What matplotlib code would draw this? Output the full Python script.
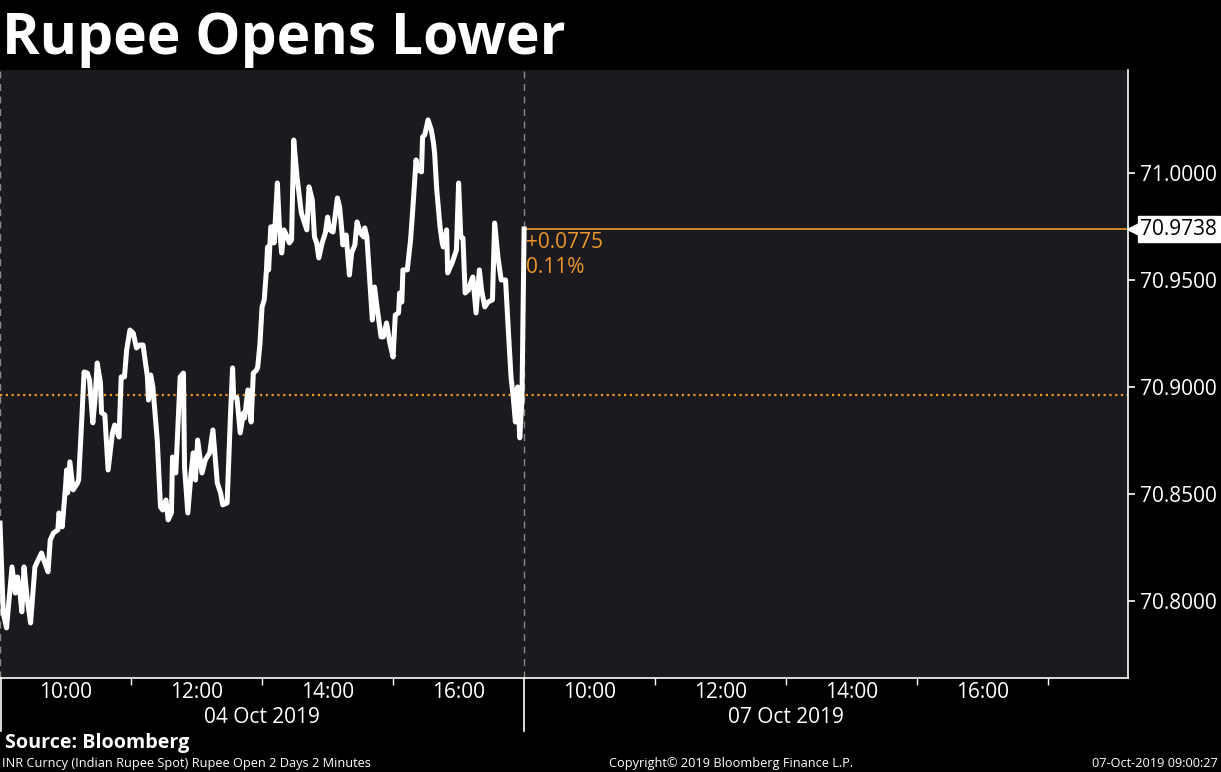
import matplotlib
matplotlib.use("Agg")
import matplotlib.pyplot as plt
import matplotlib.transforms as mtransforms

# INR spot, 04 Oct 2019, minutes after 09:00 (2-minute bars)
day1_minutes = [0, 3, 6, 11, 14, 16, 18, 20, 22, 25, 28, 32, 35, 38, 41, 44, 46, 49, 53, 54,
                57, 60, 61, 62, 64, 67, 71, 72, 75, 77, 80, 82, 85, 87, 89, 92, 93, 96, 99, 103,
                105, 109, 111, 114, 116, 119, 122, 125, 128, 131, 135, 136, 138, 140, 144, 147,
                149, 152, 154, 157, 158, 161, 165, 168, 169, 172, 175, 177, 179, 181, 185, 188,
                192, 195, 199, 202, 204, 208, 211, 213, 214, 217, 220, 223, 224, 227, 230, 232,
                235, 236, 238, 240, 242, 244, 245, 246, 248, 250, 251, 254, 256, 258, 260, 263,
                265, 267, 269, 272, 276, 278, 281, 283, 286, 288, 290, 292, 295, 298, 300, 302,
                305, 309, 311, 313, 314, 317, 320, 322, 325, 327, 330, 333, 334, 336, 338, 341,
                343, 345, 349, 351, 354, 357, 360, 362, 365, 366, 368, 369, 373, 376, 378, 381,
                383, 386, 387, 389, 392, 395, 397, 398, 400, 403, 405, 406, 409, 410, 414, 418,
                420, 422, 424, 426, 429, 431, 433, 436, 439, 441, 444, 447, 451, 453, 456, 459,
                463, 465, 468, 470, 472, 474, 476, 478]
day1_prices = [70.8364, 70.7944, 70.7874, 70.8159, 70.8037, 70.8112, 70.8051, 70.7949, 70.8159,
               70.8005, 70.7897, 70.8159, 70.8192, 70.8224, 70.8178, 70.8136, 70.8285, 70.8318,
               70.8332, 70.8411, 70.8346, 70.8533, 70.8612, 70.8505, 70.8650, 70.8519, 70.8551,
               70.8565, 70.8860, 70.9070, 70.9065, 70.9033, 70.8832, 70.8939, 70.9112, 70.9019,
               70.8879, 70.8869, 70.8612, 70.8785, 70.8822, 70.8766, 70.9047, 70.9047, 70.9173,
               70.9266, 70.9252, 70.9182, 70.9196, 70.9196, 70.9047, 70.8939, 70.9056, 70.9000,
               70.8752, 70.8439, 70.8425, 70.8472, 70.8379, 70.8411, 70.8673, 70.8598, 70.9047,
               70.9065, 70.8626, 70.8411, 70.8598, 70.8692, 70.8565, 70.8752, 70.8598, 70.8659,
               70.8692, 70.8799, 70.8551, 70.8505, 70.8449, 70.8458, 70.8860, 70.9089, 70.8953,
               70.8949, 70.8785, 70.8879, 70.8855, 70.8986, 70.8836, 70.9065, 70.9079, 70.9093,
               70.9196, 70.9374, 70.9407, 70.9547, 70.9654, 70.9547, 70.9748, 70.9748, 70.9673,
               70.9953, 70.9734, 70.9626, 70.9734, 70.9701, 70.9673, 70.9687, 71.0154, 70.9981,
               70.9813, 70.9780, 70.9734, 70.9935, 70.9874, 70.9701, 70.9673, 70.9603, 70.9673,
               70.9720, 70.9794, 70.9734, 70.9724, 70.9883, 70.9841, 70.9734, 70.9664, 70.9710,
               70.9523, 70.9626, 70.9664, 70.9771, 70.9720, 70.9701, 70.9743, 70.9701, 70.9547,
               70.9313, 70.9467, 70.9383, 70.9234, 70.9234, 70.9299, 70.9206, 70.9140, 70.9336,
               70.9346, 70.9439, 70.9397, 70.9547, 70.9547, 70.9687, 70.9827, 71.0061, 71.0014,
               71.0005, 71.0168, 71.0178, 71.0248, 71.0201, 71.0140, 71.0093, 70.9921, 70.9748,
               70.9673, 70.9654, 70.9734, 70.9533, 70.9579, 70.9640, 70.9953, 70.9701, 70.9696,
               70.9439, 70.9453, 70.9486, 70.9514, 70.9346, 70.9547, 70.9453, 70.9374, 70.9397,
               70.9407, 70.9766, 70.9608, 70.9500, 70.9500, 70.9313, 70.9047, 70.8953, 70.8836,
               70.9000, 70.8762, 70.8939]

# 07 Oct 2019 open (09:00)
day2_minutes = [0]
day2_prices = [70.9738]

prev_close = 70.8963
change_text = "+0.0775"
pct_text = "0.11%"
last_label = "70.9738"

y_ticks = [70.80, 70.85, 70.90, 70.95, 71.00]
hour_labels = ["10:00", "12:00", "14:00", "16:00"]
hour_offsets = [60, 180, 300, 420]          # minutes after 09:00
date_labels = ["04 Oct 2019", "07 Oct 2019"]

SESSION = 480  # 09:00-17:00 shown for 04 Oct
ORANGE = "#ee962b"
BG = "#1b1a1f"
FONT = "Open Sans"

x_day1 = day1_minutes
x_day2 = [SESSION + m for m in day2_minutes]
x_all = x_day1 + x_day2
y_all = day1_prices + day2_prices

fig = plt.figure(figsize=(12.21, 7.72), dpi=100, facecolor="black")
ax = fig.add_axes([0.0, 0.1218, 0.9238, 0.7875])
ax.set_facecolor(BG)

ax.plot(x_all, y_all, color="white", lw=3.6, solid_joinstyle="round", zorder=3)

# previous close and last price
ax.axhline(prev_close, color=ORANGE, lw=1.6, ls=(0, (1, 1.6)), zorder=2)
ax.hlines(day2_prices[-1], x_day2[-1], 1040, color=ORANGE, lw=1.2, zorder=2, clip_on=False)

ax.text(x_day2[-1] + 2, day2_prices[-1] - 0.0015, change_text, color=ORANGE, fontsize=15,
        family=FONT, va="top", ha="left")
ax.text(x_day2[-1] + 2, day2_prices[-1] - 0.0133, pct_text, color=ORANGE, fontsize=15,
        family=FONT, va="top", ha="left")

# day separators
ax.axvline(0, color="#8a8a8a", lw=1, ls=(0, (5, 4)), zorder=1)
ax.axvline(SESSION, color="#8a8a8a", lw=1, ls=(0, (5, 4)), zorder=1)
blend = mtransforms.blended_transform_factory(ax.transData, ax.transAxes)
for xs in [0.5, SESSION]:
    ax.plot([xs, xs], [0, -0.087], color="white", lw=1.2, transform=blend, clip_on=False)

ax.set_xlim(0, 1033)
ax.set_ylim(70.764, 71.0481)

# axes styling
for side in ["left", "top"]:
    ax.spines[side].set_visible(False)
for side in ["right", "bottom"]:
    ax.spines[side].set_color("white")
    ax.spines[side].set_linewidth(1.2)

ax.yaxis.tick_right()
ax.set_yticks(y_ticks)
ax.set_yticklabels([f"{v:.4f}" for v in y_ticks])
ax.tick_params(axis="y", colors="white", labelsize=15, length=5, width=1.2, pad=4)
for lab in ax.get_yticklabels():
    lab.set_family(FONT)

xt = hour_offsets + [SESSION + h for h in hour_offsets]
ax.set_xticks(xt)
ax.set_xticklabels(hour_labels * 2)
minor = [60, 120, 240, 360] + [SESSION + m for m in [60, 120, 240, 360, 480]]
ax.set_xticks(minor, minor=True)
ax.tick_params(axis="x", which="major", colors="white", labelsize=15, length=0, pad=3)
ax.tick_params(axis="x", which="minor", colors="white", length=5, width=1)
for lab in ax.get_xticklabels():
    lab.set_family(FONT)

ax.text(240, -0.065, date_labels[0], transform=blend, color="white", fontsize=15,
        family=FONT, ha="center", va="center")
ax.text(SESSION + 240, -0.065, date_labels[1], transform=blend, color="white", fontsize=15,
        family=FONT, ha="center", va="center")

# last price tag on the axis
ax.annotate(last_label, xy=(1.0, day2_prices[-1]), xycoords=("axes fraction", "data"),
            xytext=(9, 0), textcoords="offset points", color="black", fontsize=15,
            family=FONT, va="center", ha="left",
            bbox=dict(boxstyle="square,pad=0.12", facecolor="white", edgecolor="white"),
            annotation_clip=False, zorder=5)
ax.plot([1.0045], [day2_prices[-1]], marker="<", color="white", markersize=9,
        transform=mtransforms.blended_transform_factory(ax.transAxes, ax.transData),
        clip_on=False, zorder=5)

# titles and footer
fig.text(0.002, 0.950, "Rupee Opens Lower", color="white", fontsize=41, fontweight="bold",
         family=FONT, va="center", ha="left")
fig.text(0.004, 0.037, "Source: Bloomberg", color="white", fontsize=14.2, fontweight="bold",
         family=FONT, va="center", ha="left")
fig.text(0.002, 0.0115, "INR Curncy (Indian Rupee Spot) Rupee Open 2 Days 2 Minutes",
         color="white", fontsize=9.2, family=FONT, va="center", ha="left")
fig.text(0.599, 0.0115, "Copyright\u00a9 2019 Bloomberg Finance L.P.", color="white",
         fontsize=9.2, family=FONT, va="center", ha="center")
fig.text(0.997, 0.0115, "07-Oct-2019 09:00:27", color="white", fontsize=9.2,
         family=FONT, va="center", ha="right")

fig.savefig("out.png", dpi=100, facecolor="black")
